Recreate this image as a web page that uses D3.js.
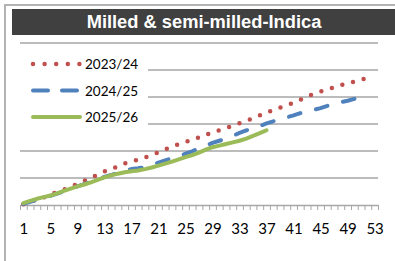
<!DOCTYPE html>
<html>
<head>
<meta charset="utf-8">
<script src="https://cdn.jsdelivr.net/npm/d3@7"></script>
<style>
  body { margin: 0; background: #fff; }
  svg { display: block; }
</style>
</head>
<body>
<svg id="chart"></svg>
<script>
// weekly values (index 0 = week 1)
const s2324 = [3, 12, 20, 28, 39, 49, 57, 68, 78, 89, 101, 112, 124, 133, 143, 154, 161, 168, 176, 185,
  195, 206, 216, 225, 233, 242, 250, 260, 269, 277, 285, 294, 303, 312, 321, 332, 342, 352, 361, 370,
  378, 390, 401, 412, 420, 428, 436, 444, 451, 457, 464, 471];
const s2425 = [4, 12, 20, 27, 34, 42, 51, 60, 69, 77, 86, 95, 104, 111, 119, 127, 133, 136, 140, 148,
  157, 165, 173, 182, 190, 199, 210, 220, 230, 238, 245, 256, 267, 276, 284, 293, 302, 310, 318, 325,
  332, 340, 347, 353, 359, 367, 376, 381, 386, 393, 400];
const s2526 = [7, 15, 23, 29, 35, 43, 52, 61, 69, 76, 84, 93, 102, 110, 116, 121, 125, 128, 133, 139,
  146, 153, 161, 169, 177, 185, 194, 205, 214, 220, 226, 232, 238, 246, 256, 266, 277];
const seriesNames = ['2023/24', '2024/25', '2025/26'];
const tickLabels = [1, 5, 9, 13, 17, 21, 25, 29, 33, 37, 41, 45, 49, 53];
const gridValues = [100, 200, 300, 400, 500, 600];

const W = 395, H = 261;
const svg = d3.select('#chart').attr('width', W).attr('height', H);

// frame + title bar
svg.append('path')
  .attr('d', 'M5,261 V5 H395')
  .attr('fill', 'none').attr('stroke', '#b3b3b3').attr('stroke-width', 2);
svg.append('rect').attr('x', 12).attr('y', 9).attr('width', W - 12).attr('height', 26).attr('fill', '#404040');
svg.append('text')
  .attr('x', 204).attr('y', 28)
  .attr('text-anchor', 'middle')
  .attr('font-family', 'Liberation Sans, Arial, sans-serif')
  .attr('font-weight', 'bold').attr('font-size', '18.3px')
  .attr('fill', '#fff')
  .text('Milled & semi-milled-Indica');

const x = d3.scaleLinear().domain([0.5, 53.5]).range([20, 378]);
const y = d3.scaleLinear().domain([0, 600]).range([205, 43]);

// gridlines
svg.append('g').selectAll('line').data(gridValues).join('line')
  .attr('x1', 20).attr('x2', 378)
  .attr('y1', d => y(d)).attr('y2', d => y(d))
  .attr('stroke', '#a6a6a6').attr('stroke-width', 1.5);

// x axis: tick marks on week boundaries
const tickAxis = svg.append('g')
  .attr('transform', 'translate(0,' + y(0) + ')')
  .call(d3.axisBottom(x).tickValues(d3.range(0.5, 54, 1)).tickFormat('').tickSize(5).tickSizeOuter(0));
tickAxis.select('.domain').attr('stroke', '#a6a6a6').attr('stroke-width', 1.5);
tickAxis.selectAll('.tick line').attr('stroke', '#a6a6a6');

// labels
const labelAxis = svg.append('g')
  .attr('transform', 'translate(0,' + y(0) + ')')
  .call(d3.axisBottom(x).tickValues(tickLabels).tickSize(0).tickPadding(18));
labelAxis.select('.domain').remove();
labelAxis.selectAll('text')
  .attr('font-family', 'Lato, sans-serif').attr('font-size', '15px').attr('fill', '#000');

const line = d3.line().x((d, i) => x(i + 1)).y(d => y(d));

const styles = [
  { color: '#c0504d', dash: '0 11' },
  { color: '#4f81bd', dash: '12 16' },
  { color: '#9bbb59', dash: null }
];
const series = [s2324, s2425, s2526];

series.forEach((s, i) => {
  svg.append('path')
    .datum(s)
    .attr('fill', 'none')
    .attr('stroke', styles[i].color)
    .attr('stroke-width', i === 0 ? 4.5 : 4)
    .attr('stroke-linecap', 'round')
    .attr('stroke-linejoin', 'round')
    .attr('stroke-dasharray', styles[i].dash)
    .attr('d', line);
});

// legend (white box over gridlines)
const legend = svg.append('g');
legend.append('rect').attr('x', 19).attr('y', 48).attr('width', 129).attr('height', 82).attr('fill', '#fff');
seriesNames.forEach((name, i) => {
  const ly = 64 + i * 26.5;
  legend.append('line')
    .attr('x1', 33).attr('x2', i === 1 ? 77 : 80)
    .attr('y1', ly).attr('y2', ly)
    .attr('stroke', styles[i].color)
    .attr('stroke-width', i === 0 ? 4.5 : 4)
    .attr('stroke-linecap', 'round')
    .attr('stroke-dasharray', i === 0 ? '0 11.6' : (i === 1 ? '15 14' : null));
  legend.append('text')
    .attr('x', 85).attr('y', ly + 5)
    .attr('font-family', 'Lato, sans-serif').attr('font-size', '13.5px')
    .attr('fill', '#000')
    .text(name);
});
</script>
</body>
</html>
